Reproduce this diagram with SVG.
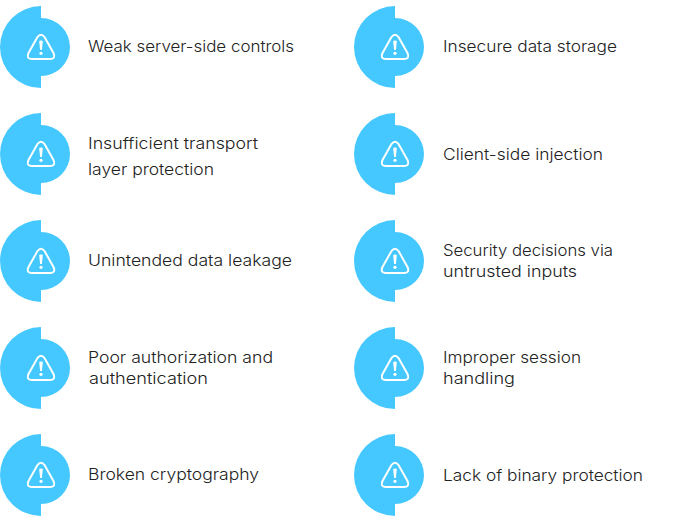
<svg xmlns="http://www.w3.org/2000/svg" width="692" height="528" viewBox="0 0 692 528">
<style>
text{font-family:"Inter","Noto Sans","Liberation Sans",sans-serif;font-size:16px;font-weight:300;fill:#222}
.b{fill:#45c8ff}
.t{fill:none;stroke:#fff;stroke-width:2;stroke-linejoin:round}
.m{fill:#fff}
</style>
<defs>
<g id="badge">
<path class="b" d="M41 6A41 41 0 0 0 41 88V76A29 29 0 0 0 41 18Z"/>
<path class="t" d="M37.500 37 28.500 53Q26 58.700 31.500 59H50.500Q56 58.700 53.500 53L44.500 37Q41 32.500 37.500 37Z"/>
<path class="m" d="M39.200 41.500Q39.200 40.500 41 40.500T42.800 41.500L41.900 50H40.100Z"/>
<circle class="m" cx="41" cy="53.300" r="1.600"/>
</g>
</defs>
<g id="n1"><use href="#badge"/><text x="88" y="52" textLength="206" lengthAdjust="spacingAndGlyphs">Weak server-side controls</text></g>
<g id="n2"><use href="#badge" y="107"/><text x="88" y="149" textLength="170" lengthAdjust="spacingAndGlyphs">Insufficient transport</text><text x="88" y="175" textLength="126" lengthAdjust="spacingAndGlyphs">layer protection</text></g>
<g id="n3"><use href="#badge" y="214"/><text x="88" y="266" textLength="204" lengthAdjust="spacingAndGlyphs">Unintended data leakage</text></g>
<g id="n4"><use href="#badge" y="321"/><text x="88" y="363" textLength="185" lengthAdjust="spacingAndGlyphs">Poor authorization and</text><text x="89" y="384" textLength="119" lengthAdjust="spacingAndGlyphs">authentication</text></g>
<g id="n5"><use href="#badge" y="428"/><text x="88" y="480" textLength="171" lengthAdjust="spacingAndGlyphs">Broken cryptography</text></g>
<g id="n6"><use href="#badge" x="354"/><text x="443" y="52" textLength="174" lengthAdjust="spacingAndGlyphs">Insecure data storage</text></g>
<g id="n7"><use href="#badge" x="354" y="107"/><text x="443" y="160" textLength="160" lengthAdjust="spacingAndGlyphs">Client-side injection</text></g>
<g id="n8"><use href="#badge" x="354" y="214"/><text x="443" y="256" textLength="170" lengthAdjust="spacingAndGlyphs">Security decisions via</text><text x="443" y="277" textLength="134" lengthAdjust="spacingAndGlyphs">untrusted inputs</text></g>
<g id="n9"><use href="#badge" x="354" y="321"/><text x="443" y="363" textLength="138" lengthAdjust="spacingAndGlyphs">Improper session</text><text x="443" y="384" textLength="72" lengthAdjust="spacingAndGlyphs">handling</text></g>
<g id="n10"><use href="#badge" x="354" y="428"/><text x="443" y="481" textLength="200" lengthAdjust="spacingAndGlyphs">Lack of binary protection</text></g>
</svg>
